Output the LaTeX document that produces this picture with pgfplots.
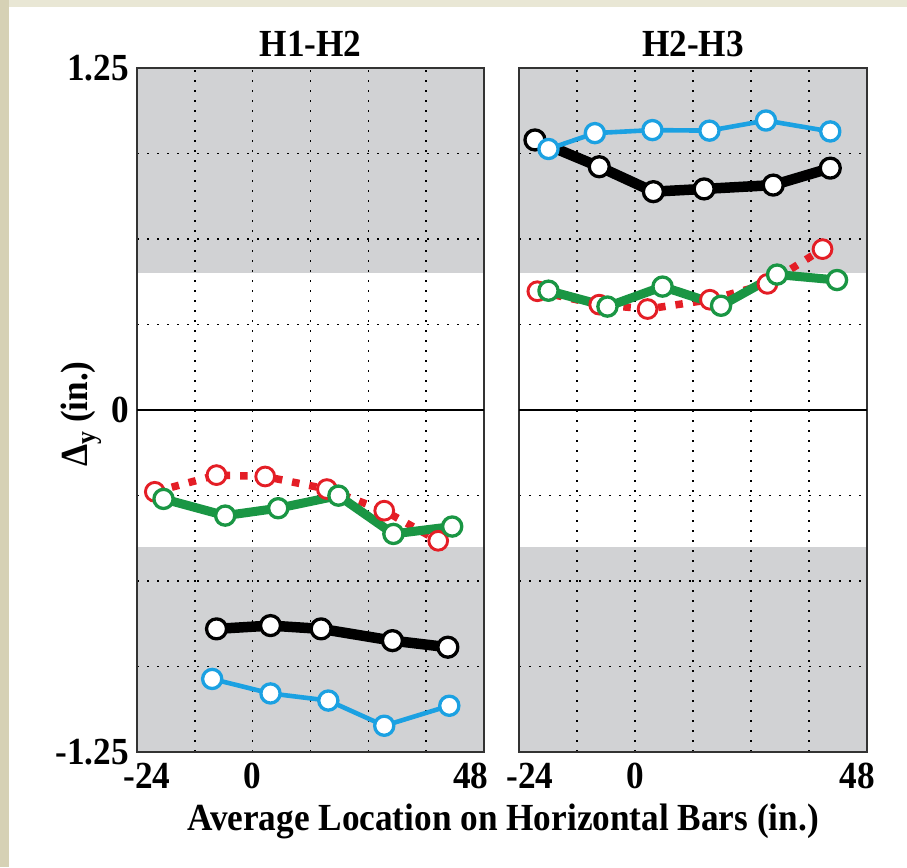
\documentclass[border=0pt]{standalone}
\usepackage{pgfplots}
\pgfplotsset{compat=1.18}
\usepackage{fontspec}
\setmainfont{Liberation Serif}[FakeStretch=0.92]
\definecolor{bgL}{RGB}{214,209,181}
\definecolor{bgT}{RGB}{233,231,213}
\definecolor{zone}{RGB}{209,210,212}
\definecolor{cblue}{RGB}{27,161,226}
\definecolor{cgreen}{RGB}{26,150,68}
\definecolor{cred}{RGB}{228,30,38}
\newcommand\lbl{\fontsize{38.3}{45}\selectfont\bfseries}

\pgfplotstableread{
x y
-7.5 -0.800
3.7 -0.788
14.2 -0.800
29.0 -0.843
40.5 -0.867
}\blackL
\pgfplotstableread{
x y
-8.4 -0.983
3.7 -1.036
15.7 -1.062
27.3 -1.154
40.8 -1.081
}\blueL
\pgfplotstableread{
x y
-20.3 -0.299
-7.5 -0.238
2.6 -0.243
15.4 -0.289
27.3 -0.368
38.5 -0.478
}\redL
\pgfplotstableread{
x y
-18.5 -0.325
-5.7 -0.386
5.3 -0.359
17.8 -0.313
29.2 -0.453
41.4 -0.426
}\greenL
\pgfplotstableread{
x y
-20.7 0.987
-7.4 0.889
3.8 0.798
14.3 0.808
28.6 0.822
40.4 0.884
}\blackR
\pgfplotstableread{
x y
-17.9 0.954
-8.3 1.012
3.6 1.023
15.4 1.021
27.1 1.058
40.4 1.018
}\blueR
\pgfplotstableread{
x y
-20.2 0.434
-7.4 0.385
2.6 0.369
15.5 0.403
27.4 0.461
38.8 0.588
}\redR
\pgfplotstableread{
x y
-17.9 0.436
-5.7 0.378
5.7 0.451
17.8 0.381
29.4 0.495
41.8 0.475
}\greenR

\pgfplotsset{
 panel/.style={
  scale only axis, width=347pt, height=684pt, anchor=south west,
  xmin=-24, xmax=48, ymin=-1.25, ymax=1.25,
  xtick={-24,-12,0,12,24,36,48},
  ytick={-1.25,-0.9375,-0.625,-0.3125,0,0.3125,0.625,0.9375,1.25},
  major tick length=0pt,
  grid=major,
  major grid style={black, line width=1.5pt, line cap=butt, dash pattern=on 1.5pt off 8.5pt},
  axis line style={draw=black!80, line width=1.8pt},
  axis background/.style={path picture={
    \fill[zone] (path picture bounding box.north west) rectangle ([yshift=-205.2pt]path picture bounding box.north east);
    \fill[zone] (path picture bounding box.south west) rectangle ([yshift=205.2pt]path picture bounding box.south east);
  }},
  ticklabel style={font=\lbl, inner sep=0pt},
  xticklabel style={anchor=north, yshift=-11pt},
  yticklabel style={anchor=east, xshift=-8pt},
  title style={font=\lbl, at={(0.5,1)}, anchor=base, yshift=5.5pt, inner sep=0pt},
 },
 blk/.style={black, line width=10.5pt, line join=round, mark=*, mark size=10pt, mark options={fill=white, draw=black, line width=3.3pt}},
 blu/.style={cblue, line width=4.6pt, line join=round, mark=*, mark size=9.6pt, mark options={fill=white, draw=cblue, line width=3.3pt}},
 red/.style={cred, line width=7.5pt, line cap=butt, dash pattern=on 7.5pt off 10pt, mark=*, mark size=9.4pt, mark options={solid, fill=white, draw=cred, line width=2.9pt}},
 grn/.style={cgreen, line width=9pt, line join=round, mark=*, mark size=9.6pt, mark options={fill=white, draw=cgreen, line width=3.3pt}},
}

\begin{document}
\begin{tikzpicture}
\fill[white] (0pt,0pt) rectangle (907pt,867pt);
\fill[bgT] (0pt,860pt) rectangle (907pt,867pt);
\fill[bgL] (0pt,0pt) rectangle (9pt,867pt);

\begin{axis}[panel, at={(137pt,115pt)}, title={H1-H2},
  xticklabels={\hspace*{20pt}-24,,0,,,,48\hspace*{26pt}},
  yticklabels={-1.25,,,,0,,,,\raisebox{-9pt}{1.25}}]
\draw[black, line width=1.6pt] (axis cs:-24,0) -- (axis cs:48,0);
\addplot[blk] table {\blackL};
\addplot[blu] table {\blueL};
\addplot[red] table {\redL};
\addplot[grn] table {\greenL};
\end{axis}

\begin{axis}[panel, at={(519pt,115pt)}, width=348pt, title={H2-H3},
  xticklabels={\hspace*{22pt}-24,,0,,,,48\hspace*{20pt}},
  yticklabels={}]
\draw[black, line width=1.6pt] (axis cs:-24,0) -- (axis cs:48,0);
\addplot[blk] table {\blackR};
\addplot[blu] table {\blueR};
\addplot[red] table {\redR};
\addplot[grn] table {\greenR};
\end{axis}

\node[rotate=90, anchor=base, font=\lbl] at (87pt,453pt) {Δ\raisebox{-0.22em}{\fontsize{28}{30}\selectfont y} (in.)};
\node[anchor=base, font=\lbl] at (503pt,37pt) {Average Location on Horizontal Bars (in.)};
\end{tikzpicture}
\end{document}
